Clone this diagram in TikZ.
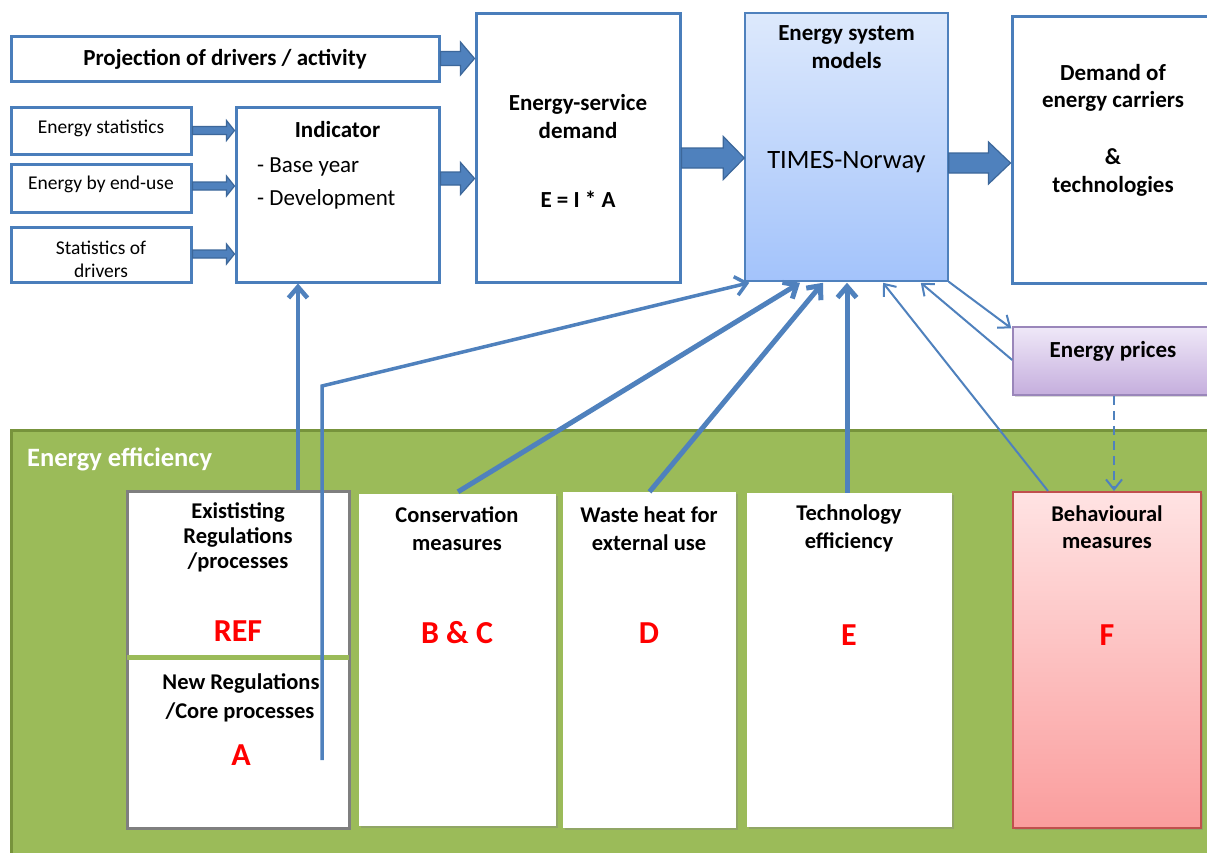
\documentclass[tikz,border=0pt]{standalone}
\usepackage{fontspec}
\setmainfont{Carlito}
\usetikzlibrary{arrows.meta,calc,shadows}
\definecolor{lineblue}{HTML}{4F81BD}
\definecolor{boxblue}{HTML}{4A7EBB}
\definecolor{arrdark}{HTML}{3C679A}
\definecolor{effgreen}{HTML}{9BBB59}
\definecolor{effdark}{HTML}{77933C}
\definecolor{esmtop}{HTML}{DDE9FC}
\definecolor{esmbot}{HTML}{A3C3FB}
\definecolor{prtop}{HTML}{EFE8F8}
\definecolor{prbot}{HTML}{C5AEDD}
\definecolor{prborder}{HTML}{9A86BA}
\definecolor{bhtop}{HTML}{FFE3E3}
\definecolor{bhbot}{HTML}{FA9D9D}
\definecolor{bhborder}{HTML}{C0504D}
\definecolor{redtxt}{HTML}{FF0000}
\definecolor{grayborder}{HTML}{7F7F7F}
\newcommand{\blockarrow}[5]{%
  \filldraw[barrow] let \p1=#1, \p2=#2 in
    (\x1,\y1+#3) -- (\x2-#5,\y1+#3) -- (\x2-#5,\y1+#4) -- (\x2,\y1)
    -- (\x2-#5,\y1-#4) -- (\x2-#5,\y1-#3) -- (\x1,\y1-#3) -- cycle;}
\tikzset{
  box/.style={draw=boxblue, line width=3pt, fill=white, inner sep=0pt},
  barrow/.style={fill=lineblue, draw=arrdark, line width=1.2pt, line join=miter},
  lbl/.style={anchor=base, inner sep=0pt, font=\fontsize{23}{28}\selectfont\bfseries},
  lblr/.style={anchor=base, inner sep=0pt, font=\fontsize{23}{28}\selectfont},
  smalltxt/.style={anchor=base, inner sep=0pt, font=\fontsize{19.5}{24}\selectfont},
  redl/.style={anchor=base, inner sep=0pt, text=redtxt, font=\fontsize{32}{38}\selectfont\bfseries},
  lowbox/.style={fill=white, inner sep=0pt, drop shadow={shadow xshift=1.5pt, shadow yshift=-2pt, opacity=0.35}},
  conn/.style={draw=lineblue, line width=#1, -{Straight Barb[length=11pt,width=19pt]}},
  thinconn/.style={draw=lineblue, line width=2pt, -{Straight Barb[length=10pt,width=16pt]}},
}
\begin{document}
\begin{tikzpicture}[x=1pt,y=-1pt]
\useasboundingbox (0,0) rectangle (1207,852);
\fill[white] (0,0) rectangle (1207,852);
\begin{scope}
\clip (0,0) rectangle (1207,852);
% green region
\node[fill=effgreen, draw=effdark, line width=3pt, inner sep=0pt, minimum width=1230pt, minimum height=450pt] (eff) at (626,655) {};
\node[anchor=base west, inner sep=0pt, text=white, font=\fontsize{26.5}{30}\selectfont\bfseries] (effT) at (27,466) {Energy efficiency};

% top boxes
\node[box, minimum width=428pt, minimum height=45pt] (proj) at (225,58.5) {};
\node[lbl] (projT) at (225,65) {Projection of drivers / activity};
\node[box, minimum width=180pt, minimum height=47pt] (stat1) at (101,130.5) {};
\node[smalltxt] (stat1T) at (101,133) {Energy statistics};
\node[box, minimum width=180pt, minimum height=48pt] (stat2) at (101,188) {};
\node[smalltxt] (stat2T) at (101,189) {Energy by end-use};
\node[box, minimum width=180pt, minimum height=55pt] (stat3) at (101,254.5) {};
\node[smalltxt] (stat3Ta) at (101,254) {Statistics of};
\node[smalltxt] (stat3Tb) at (101,277) {drivers};
\node[box, minimum width=203pt, minimum height=175pt] (ind) at (337.5,194.5) {};
\node[lbl] (indT) at (337.5,137) {Indicator};
\node[lblr, anchor=base west] (indA) at (257,172) {- Base year};
\node[lblr, anchor=base west] (indB) at (257,205) {- Development};
\node[box, minimum width=204pt, minimum height=269pt] (esd) at (578,147.5) {};
\node[lbl] (esdTa) at (578,110) {Energy-service};
\node[lbl] (esdTb) at (578,138) {demand};
\node[lbl] (esdTc) at (578,207) {E = I * A};
\node[draw=lineblue, line width=1.5pt, top color=esmtop, bottom color=esmbot, inner sep=0pt, minimum width=203pt, minimum height=268pt] (esm) at (846.5,147) {};
\node[lbl] (esmTa) at (846.5,40) {Energy system};
\node[lbl] (esmTb) at (846.5,68) {models};
\node[lblr, font=\fontsize{26.5}{30}\selectfont] (esmTc) at (846.5,168) {TIMES-Norway};
\node[box, minimum width=218pt, minimum height=267pt] (dem) at (1121,149.5) {};
\node[lbl] (demTa) at (1113,80) {Demand of};
\node[lbl] (demTb) at (1113,107) {energy carriers};
\node[lbl] (demTc) at (1113,164) {\&};
\node[lbl] (demTd) at (1113,192) {technologies};
\node[draw=prborder, line width=1.5pt, top color=prtop, bottom color=prbot, inner sep=0pt, minimum width=217pt, minimum height=68pt, drop shadow={shadow xshift=1.5pt, shadow yshift=-2pt, opacity=0.3}] (pr) at (1121.5,361) {};
\node[lbl] (prT) at (1113,357) {Energy prices};

% block arrows
\blockarrow{(proj.east)}{(esd.west)}{7pt}{16.5pt}{14pt}
\blockarrow{([yshift=16pt]ind.east)}{(esd.west)}{6.5pt}{16pt}{14pt}
\blockarrow{(stat1.east)}{(ind.west)}{4pt}{10pt}{8pt}
\blockarrow{([yshift=2pt]stat2.east)}{(ind.west)}{4pt}{10pt}{8pt}
\blockarrow{([yshift=0.5pt]stat3.east)}{(ind.west)}{4pt}{10pt}{8pt}
\blockarrow{([yshift=-10.5pt]esd.east)}{(esm.west)}{10pt}{21.5pt}{21pt}
\blockarrow{([yshift=-16pt]esm.east)}{(dem.west)}{10pt}{21pt}{22pt}

% lower boxes
\node[lowbox, draw=grayborder, line width=3pt, minimum width=222pt, minimum height=337pt] (exist) at (238,659.5) {};
\draw[effgreen, line width=5pt, shorten <=1.5pt, shorten >=1.5pt] ([yshift=2.5pt]exist.west) -- ([yshift=2.5pt]exist.east);
\node[lbl, font=\fontsize{22.5}{27}\selectfont\bfseries] (exTa) at (238,518) {Exististing};
\node[lbl, font=\fontsize{22.5}{27}\selectfont\bfseries] (exTb) at (238,543) {Regulations};
\node[lbl, font=\fontsize{22.5}{27}\selectfont\bfseries] (exTc) at (238,568) {/processes};
\node[redl] (exR) at (238,641) {REF};
\node[lbl, font=\fontsize{22.5}{27}\selectfont\bfseries] (nwTa) at (241,689) {New Regulations};
\node[lbl, font=\fontsize{22.5}{27}\selectfont\bfseries] (nwTb) at (240,718) {/Core processes};
\node[redl] (nwR) at (241,765) {A};

\node[lowbox, minimum width=197pt, minimum height=332pt] (cons) at (457.5,660) {};
\node[lbl, font=\fontsize{22.5}{27}\selectfont\bfseries] (coTa) at (457,522) {Conservation};
\node[lbl, font=\fontsize{22.5}{27}\selectfont\bfseries] (coTb) at (457,550) {measures};
\node[redl] (coR) at (457,643) {B \& C};

\node[lowbox, minimum width=173pt, minimum height=336pt] (waste) at (649.5,660) {};
\node[lbl, font=\fontsize{22.5}{27}\selectfont\bfseries] (waTa) at (649,522) {Waste heat for};
\node[lbl, font=\fontsize{22.5}{27}\selectfont\bfseries] (waTb) at (649,550) {external use};
\node[redl] (waR) at (649,643) {D};

\node[lowbox, minimum width=205pt, minimum height=334pt] (tech) at (849.5,660) {};
\node[lbl, font=\fontsize{22.5}{27}\selectfont\bfseries] (teTa) at (849,520) {Technology};
\node[lbl, font=\fontsize{22.5}{27}\selectfont\bfseries] (teTb) at (849,548) {efficiency};
\node[redl] (teR) at (849,645) {E};

\node[lowbox, draw=bhborder, line width=2pt, top color=bhtop, bottom color=bhbot, minimum width=188pt, minimum height=336pt] (behav) at (1107,660) {};
\node[lbl, font=\fontsize{22.5}{27}\selectfont\bfseries] (bhTa) at (1107,521) {Behavioural};
\node[lbl, font=\fontsize{22.5}{27}\selectfont\bfseries] (bhTb) at (1107,548) {measures};
\node[redl] (bhR) at (1107,645) {F};

% connectors
\draw[conn=4.5pt] ([xshift=60pt]exist.north) -- ([xshift=-39.5pt]ind.south);
\coordinate (aStart) at (322,760);
\coordinate (aBend) at (322,386);
\draw[conn=3.5pt, line join=miter] (aStart) -- (aBend) -- ([xshift=5pt,yshift=-1pt]esm.south west);
\draw[conn=5pt] ([xshift=0.5pt,yshift=2pt]cons.north) -- ([xshift=-46.5pt,yshift=-1pt]esm.south);
\draw[conn=5pt] (waste.north) -- ([xshift=-23.5pt,yshift=-1pt]esm.south);
\draw[conn=5pt] ([xshift=-2.5pt]tech.north) -- ([xshift=0.5pt,yshift=-1pt]esm.south);
\draw[thinconn] ([xshift=-59pt]behav.north) -- ([xshift=36.5pt,yshift=-1pt]esm.south);
\draw[thinconn] ([yshift=1pt]pr.west) -- ([xshift=-28pt,yshift=-1pt]esm.south east);
\draw[thinconn] (esm.south east) -- ([xshift=-1pt,yshift=-2pt]pr.north west);
\draw[thinconn, dashed, dash pattern=on 9pt off 6pt] ([xshift=-7.5pt]pr.south) -- ([xshift=7pt]behav.north);
\end{scope}
\end{tikzpicture}
\end{document}
